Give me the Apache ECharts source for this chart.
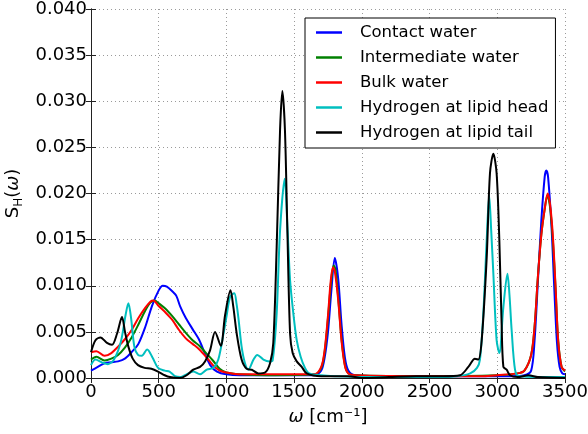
<!DOCTYPE html>
<html>
<head>
<meta charset="utf-8">
<script src="https://cdn.jsdelivr.net/npm/echarts@6/dist/echarts.min.js"></script>
<style>html,body{margin:0;padding:0;background:#fff}#c{width:588px;height:434px}</style>
</head>
<body>
<div id="c"></div>
<script>
const seriesNames = ['Contact water', 'Intermediate water', 'Bulk water', 'Hydrogen at lipid head', 'Hydrogen at lipid tail'];
const seriesColors = ['#0000ff', '#008000', '#ff0000', '#00bfbf', '#000000'];
const xTicks = [0, 500, 1000, 1500, 2000, 2500, 3000, 3500];
const yTicks = [0, 0.005, 0.010, 0.015, 0.020, 0.025, 0.030, 0.035, 0.040];

const contactWater = [[0,0.0008],[50,0.0012],[100,0.0016],[150,0.0017],[200,0.0018],[250,0.0021],[300,0.0028],[350,0.0037],[400,0.0055],[450,0.0078],[500,0.0095],[530,0.0100],[560,0.0099],[600,0.0094],[630,0.0089],[660,0.0077],[700,0.0065],[750,0.0053],[800,0.0041],[840,0.0027],[880,0.0014],[930,0.0007],[1000,0.0004],[1100,0.0003],[1300,0.0003],[1500,0.0003],[1650,0.0003],[1700,0.0008],[1725,0.0022],[1750,0.0050],[1775,0.0095],[1800,0.0130],[1825,0.0108],[1850,0.0058],[1875,0.0022],[1900,0.0008],[1950,0.0003],[2200,0.0002],[2600,0.0002],[2900,0.0002],[3100,0.0002],[3200,0.0003],[3250,0.0008],[3275,0.0040],[3300,0.0105],[3325,0.0170],[3350,0.0218],[3362,0.0225],[3375,0.0218],[3400,0.0165],[3420,0.0100],[3440,0.0040],[3460,0.0012],[3480,0.0005],[3500,0.0004]];

const intermediateWater = [[0,0.0020],[40,0.0023],[100,0.0019],[150,0.0021],[200,0.0025],[250,0.0033],[300,0.0044],[350,0.0058],[400,0.0073],[440,0.0082],[470,0.0084],[500,0.0081],[550,0.0075],[600,0.0067],[650,0.0058],[700,0.0049],[750,0.0041],[800,0.0035],[850,0.0027],[900,0.0019],[950,0.0010],[1000,0.0006],[1100,0.0004],[1300,0.0003],[1650,0.0004],[1700,0.0011],[1725,0.0028],[1750,0.0065],[1775,0.0108],[1792,0.0122],[1805,0.0118],[1825,0.0088],[1850,0.0042],[1875,0.0014],[1900,0.0005],[1950,0.0003],[2500,0.0002],[3000,0.0003],[3150,0.0005],[3200,0.0008],[3250,0.0025],[3275,0.0055],[3300,0.0110],[3325,0.0155],[3350,0.0183],[3370,0.0198],[3390,0.0185],[3410,0.0150],[3430,0.0098],[3450,0.0040],[3475,0.0012],[3500,0.0007]];

const bulkWater = [[0,0.0028],[40,0.0029],[100,0.0024],[150,0.0027],[200,0.0034],[250,0.0042],[300,0.0052],[350,0.0065],[400,0.0076],[440,0.0083],[460,0.0084],[500,0.0078],[550,0.0071],[600,0.0063],[650,0.0052],[700,0.0043],[750,0.0037],[800,0.0031],[850,0.0023],[900,0.0014],[950,0.0008],[1000,0.0006],[1100,0.0004],[1300,0.0004],[1650,0.0004],[1700,0.0012],[1725,0.0030],[1750,0.0068],[1770,0.0105],[1787,0.0120],[1800,0.0116],[1825,0.0085],[1850,0.0040],[1875,0.0013],[1900,0.0005],[1950,0.0003],[2500,0.0002],[2900,0.0002],[3000,0.0003],[3150,0.0005],[3200,0.0008],[3250,0.0025],[3275,0.0055],[3300,0.0110],[3325,0.0155],[3350,0.0183],[3372,0.0200],[3390,0.0188],[3410,0.0155],[3430,0.0100],[3450,0.0040],[3475,0.0012],[3500,0.0008]];

const lipidHead = [[0,0.0014],[33,0.0020],[80,0.0017],[125,0.0015],[170,0.0020],[220,0.0039],[255,0.0068],[276,0.0081],[296,0.0065],[320,0.0034],[347,0.0025],[375,0.0024],[415,0.0031],[455,0.0022],[495,0.0011],[545,0.0008],[580,0.0007],[620,0.0002],[660,0.0001],[705,0.0004],[755,0.0007],[805,0.0004],[855,0.0009],[905,0.0011],[940,0.0020],[977,0.0047],[1002,0.0068],[1027,0.0088],[1058,0.0092],[1075,0.0080],[1090,0.0063],[1112,0.0034],[1137,0.0016],[1162,0.0009],[1200,0.0020],[1228,0.0025],[1273,0.0020],[1317,0.0018],[1341,0.0019],[1371,0.0070],[1396,0.0160],[1430,0.0216],[1450,0.0165],[1470,0.0106],[1494,0.0070],[1519,0.0041],[1548,0.0023],[1580,0.0011],[1612,0.0005],[1700,0.0003],[1800,0.0002],[2000,0.0001],[2500,0.0001],[2700,0.0002],[2800,0.0005],[2850,0.0011],[2872,0.0020],[2897,0.0070],[2922,0.0150],[2940,0.0198],[2955,0.0160],[2971,0.0113],[2995,0.0041],[3015,0.0027],[3045,0.0077],[3075,0.0113],[3090,0.0090],[3106,0.0052],[3131,0.0009],[3160,0.0002],[3500,0.0001]];

const lipidTail = [[0,0.0028],[33,0.0041],[70,0.0044],[118,0.0038],[155,0.0036],[192,0.0048],[229,0.0066],[251,0.0050],[276,0.0034],[308,0.0021],[347,0.0014],[396,0.0011],[446,0.0010],[495,0.0007],[544,0.0003],[583,0.0001],[657,0.0000],[706,0.0003],[755,0.0009],[805,0.0012],[842,0.0018],[879,0.0030],[916,0.0050],[958,0.0035],[990,0.0068],[1030,0.0095],[1051,0.0077],[1076,0.0048],[1112,0.0020],[1149,0.0010],[1187,0.0009],[1236,0.0005],[1285,0.0006],[1322,0.0016],[1346,0.0038],[1371,0.0142],[1396,0.0269],[1413,0.0311],[1432,0.0269],[1450,0.0160],[1470,0.0048],[1489,0.0027],[1519,0.0018],[1556,0.0012],[1593,0.0005],[1700,0.0002],[1900,0.0002],[2000,0.0000],[2200,0.0001],[2400,0.0002],[2600,0.0002],[2725,0.0003],[2786,0.0012],[2835,0.0021],[2860,0.0020],[2885,0.0041],[2922,0.0131],[2946,0.0222],[2971,0.0243],[2995,0.0222],[3015,0.0150],[3032,0.0059],[3045,0.0012],[3069,0.0009],[3094,0.0003],[3150,0.0001],[3230,0.0003],[3300,0.0001],[3500,0.0000]];

const seriesData = [contactWater, intermediateWater, bulkWater, lipidHead, lipidTail];

const FONT = 'DejaVu Sans';
const chart = echarts.init(document.getElementById('c'), null, {renderer: 'canvas'});

const gridLine = {show: true, lineStyle: {color: '#9a9a9a', type: [1, 3], width: 1}};
const axLine = {show: true, lineStyle: {color: '#222', width: 1}};
const axTick = {show: true, inside: true, length: 5, lineStyle: {color: '#222'}};

const option = {
  animation: false,
  backgroundColor: '#fff',
  textStyle: {fontFamily: FONT},
  grid: {left: 91, right: 23, top: 9, bottom: 56, containLabel: false, outerBoundsMode: 'none'},
  legend: {
    orient: 'vertical', left: 305, top: 18,
    data: seriesNames,
    icon: 'rect', itemWidth: 26, itemHeight: 2.5, itemGap: 8,
    padding: [6, 7, 7, 11],
    borderColor: '#000', borderWidth: 1, backgroundColor: '#fff',
    textStyle: {fontFamily: FONT, fontSize: 16.5, color: '#000', padding: [0, 0, 0, 13]}
  },
  xAxis: [{
    type: 'value', min: xTicks[0], max: xTicks[xTicks.length - 1], interval: 500,
    position: 'bottom',
    axisLine: axLine, axisTick: axTick, splitLine: gridLine,
    axisLabel: {color: '#000', fontFamily: FONT, fontSize: 18, margin: 5,
      formatter: v => String(v)},
    name: '{i|ω} [cm⁻¹]', nameLocation: 'middle', nameGap: 30,
    nameTextStyle: {fontFamily: FONT, fontSize: 18, color: '#000',
      rich: {i: {fontFamily: FONT, fontStyle: 'italic', fontSize: 18}}}
  }, {
    type: 'value', min: xTicks[0], max: xTicks[xTicks.length - 1], interval: 500,
    position: 'top',
    axisLine: axLine, axisTick: axTick, splitLine: {show: false}, axisLabel: {show: false}
  }],
  yAxis: [{
    type: 'value', min: yTicks[0], max: yTicks[yTicks.length - 1], interval: 0.005,
    position: 'left',
    axisLine: axLine, axisTick: axTick, splitLine: gridLine,
    axisLabel: {color: '#000', fontFamily: FONT, fontSize: 18, margin: 4,
      formatter: v => v.toFixed(3)},
    name: 'S{sub|H}({i|ω})', nameLocation: 'middle', nameGap: 48, nameRotate: 90,
    nameTextStyle: {fontFamily: FONT, fontSize: 18, color: '#000', lineHeight: 22,
      rich: {i: {fontFamily: FONT, fontStyle: 'italic', fontSize: 18, lineHeight: 22},
             sub: {fontFamily: FONT, fontSize: 12, verticalAlign: 'bottom', lineHeight: 12}}}
  }, {
    type: 'value', min: yTicks[0], max: yTicks[yTicks.length - 1], interval: 0.005,
    position: 'right',
    axisLine: axLine, axisTick: axTick, splitLine: {show: false}, axisLabel: {show: false}
  }],
  series: seriesNames.map((n, i) => ({
    name: n, type: 'line', data: seriesData[i],
    xAxisIndex: 0, yAxisIndex: 0,
    showSymbol: false, symbol: 'none', smooth: 0.3,
    lineStyle: {color: seriesColors[i], width: 2},
    itemStyle: {color: seriesColors[i]},
    z: 2 + i
  }))
};
chart.setOption(option);
</script>
</body>
</html>
